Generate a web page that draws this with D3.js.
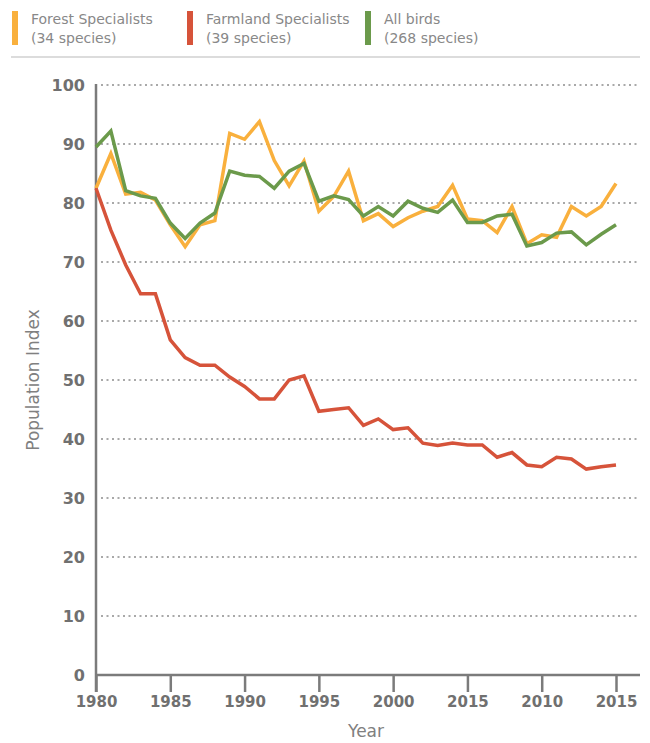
<!DOCTYPE html>
<html>
<head>
<meta charset="utf-8">
<script src="https://cdn.jsdelivr.net/npm/d3@7"></script>
<style>
  body { margin: 0; background: #fff; }
  svg { font-family: "DejaVu Sans", sans-serif; }
</style>
</head>
<body>
<svg width="650" height="743"></svg>
<script>
var years = d3.range(1980, 2016);

var forest = [82.5, 88.4, 81.5, 81.8, 80.5, 76.3, 72.6, 76.3, 77.0, 91.8,
    90.8, 93.8, 87.2, 82.9, 87.1, 78.6, 81.1, 85.4, 77.0, 78.2,
    76.0, 77.5, 78.6, 79.4, 83.0, 77.3, 77.0, 75.0, 79.4, 73.1,
    74.6, 74.2, 79.4, 77.8, 79.4, 83.3];

var farmland = [82.5, 75.4, 69.5, 64.6, 64.6, 56.8, 53.8, 52.5, 52.5, 50.5,
    48.9, 46.8, 46.8, 50.0, 50.7, 44.7, 45.0, 45.3, 42.3, 43.4,
    41.6, 41.9, 39.3, 38.9, 39.3, 39.0, 39.0, 36.9, 37.7, 35.6,
    35.3, 36.9, 36.6, 34.9, 35.3, 35.6];

var allBirds = [89.5, 92.2, 82.1, 81.2, 80.8, 76.6, 74.0, 76.6, 78.3, 85.4,
    84.7, 84.5, 82.5, 85.4, 86.7, 80.3, 81.2, 80.6, 77.8, 79.4,
    77.8, 80.3, 79.1, 78.4, 80.5, 76.7, 76.7, 77.8, 78.1, 72.7,
    73.3, 74.9, 75.1, 72.9, 74.7, 76.3];

var tickYears = [1980, 1985, 1990, 1995, 2000, 2005, 2010, 2015];
var tickLabels = ["1980", "1985", "1990", "1995", "2000", "2015", "2010", "2015"];
var yTicks = [0, 10, 20, 30, 40, 50, 60, 70, 80, 90, 100];

var seriesNames = ["Forest Specialists", "Farmland Specialists", "All birds"];
var seriesCounts = ["(34 species)", "(39 species)", "(268 species)"];
var seriesData = [forest, farmland, allBirds];
var colors = ["#f9b03d", "#d6533a", "#6b9a4b"];

var svg = d3.select("svg");

var x = d3.scaleLinear().domain([1980, 2015]).range([96, 616]),
    y = d3.scaleLinear().domain([0, 100]).range([675, 85]);

// legend
var legend = svg.append("g");
var legendX = [12, 187, 365];
seriesNames.forEach(function(name, i) {
    var g = legend.append("g").attr("transform", "translate(" + legendX[i] + ",0)");
    g.append("rect")
        .attr("x", 0).attr("y", 11)
        .attr("width", 6).attr("height", 34)
        .style("fill", colors[i]);
    g.append("text")
        .attr("x", 19).attr("y", 24)
        .style("font-size", "14px")
        .style("fill", "#888")
        .text(name);
    g.append("text")
        .attr("x", 19).attr("y", 43)
        .style("font-size", "14px")
        .style("fill", "#888")
        .text(seriesCounts[i]);
});
svg.append("line")
    .attr("x1", 11).attr("x2", 640)
    .attr("y1", 57).attr("y2", 57)
    .style("stroke", "#dcdcdc")
    .style("stroke-width", 2);

// grid
svg.append("g")
    .selectAll("line")
    .data(yTicks.slice(1))
    .enter().append("line")
    .attr("x1", 101).attr("x2", 637)
    .attr("y1", function(d) { return y(d); })
    .attr("y2", function(d) { return y(d); })
    .style("stroke", "#a9a9a9")
    .style("stroke-width", 2)
    .style("stroke-dasharray", "2,3.5");

// y axis
var yAxis = d3.axisLeft(y).tickValues(yTicks).tickSize(0).tickPadding(11);
var gy = svg.append("g")
    .attr("transform", "translate(96,0)")
    .call(yAxis);
gy.select(".domain").remove();
gy.selectAll("text")
    .style("font-size", "16px")
    .style("font-weight", "bold")
    .style("fill", "#707070")
    .style("font-family", "'DejaVu Sans', sans-serif");

svg.append("line")
    .attr("x1", 96).attr("x2", 96)
    .attr("y1", 84).attr("y2", 692)
    .style("stroke", "#7b7b7b")
    .style("stroke-width", 2.5);

// x axis
var xAxis = d3.axisBottom(x)
    .tickValues(tickYears)
    .tickFormat(function(d, i) { return tickLabels[i]; })
    .tickSize(17)
    .tickPadding(4);
var gx = svg.append("g")
    .attr("transform", "translate(0," + y(0) + ")")
    .call(xAxis);
gx.select(".domain").remove();
gx.selectAll("line").style("stroke", "#7b7b7b").style("stroke-width", 2.5);
gx.selectAll("text")
    .style("font-size", "15px")
    .style("font-weight", "bold")
    .style("fill", "#707070")
    .style("font-family", "'DejaVu Sans', sans-serif");
svg.append("line")
    .attr("x1", 96).attr("x2", 640)
    .attr("y1", y(0)).attr("y2", y(0))
    .style("stroke", "#7b7b7b")
    .style("stroke-width", 2.5);

// axis titles
svg.append("text")
    .attr("x", 366).attr("y", 737)
    .attr("text-anchor", "middle")
    .style("font-size", "17px")
    .style("fill", "#808080")
    .text("Year");
svg.append("text")
    .attr("transform", "translate(39,380) rotate(-90)")
    .attr("text-anchor", "middle")
    .style("font-size", "17px")
    .style("fill", "#808080")
    .text("Population Index");

// lines
var line = d3.line()
    .x(function(d, i) { return x(years[i]); })
    .y(function(d) { return y(d); });

seriesData.forEach(function(data, i) {
    svg.append("path")
        .datum(data)
        .style("fill", "none")
        .style("stroke", colors[i])
        .style("stroke-width", 3.5)
        .attr("d", line);
});
</script>
</body>
</html>
